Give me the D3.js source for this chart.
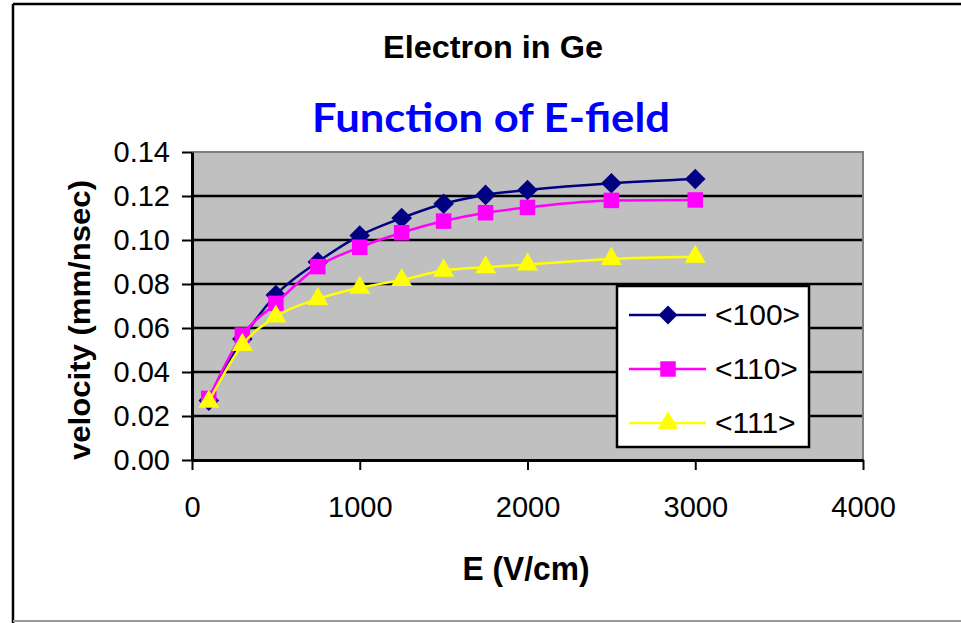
<!DOCTYPE html>
<html>
<head>
<meta charset="utf-8">
<script src="https://cdn.jsdelivr.net/npm/d3@7"></script>
<style>
  html, body { margin: 0; padding: 0; background: #fff; }
  svg { display: block; }
</style>
</head>
<body>
<svg id="chart" width="961" height="623"></svg>
<script>
// E-field (V/cm) for every measured point
const fieldE = [100, 300, 500, 750, 1000, 1250, 1500, 1750, 2000, 2500, 3000];

// drift velocity (mm/nsec) per crystal direction
const v100 = [0.027, 0.055, 0.075, 0.090, 0.102, 0.110, 0.1165, 0.1205, 0.1227, 0.1258, 0.1277];
const v110 = [0.028, 0.0568, 0.0712, 0.0879, 0.0967, 0.1033, 0.1086, 0.1124, 0.1148, 0.1180, 0.1182];
const v111 = [0.0265, 0.0523, 0.0652, 0.0732, 0.0783, 0.0818, 0.0861, 0.0876, 0.0889, 0.0914, 0.0924];

const seriesNames = ['<100>', '<110>', '<111>'];
const xTicks = [0, 1000, 2000, 3000, 4000];
const yTicks = [0, 0.02, 0.04, 0.06, 0.08, 0.10, 0.12, 0.14];

const svg = d3.select('#chart');
const font = "'Liberation Sans', Arial, sans-serif";

// outer chart frame
svg.append('line').attr('x1', 13).attr('y1', 4).attr('x2', 961).attr('y2', 4)
  .attr('stroke', '#000').attr('stroke-width', 2.5);
svg.append('line').attr('x1', 13).attr('y1', 4).attr('x2', 13).attr('y2', 623)
  .attr('stroke', '#000').attr('stroke-width', 2.5);
svg.append('line').attr('x1', 13).attr('y1', 621).attr('x2', 961).attr('y2', 621)
  .attr('stroke', '#999').attr('stroke-width', 2);

// plot area
const pL = 192, pR = 863, pT = 152, pB = 460;
const x = d3.scaleLinear().domain([0, 4000]).range([pL, pR]);
const y = d3.scaleLinear().domain([0, 0.14]).range([pB, pT]);

svg.append('rect')
  .attr('x', pL).attr('y', pT)
  .attr('width', pR - pL).attr('height', pB - pT)
  .attr('fill', '#C0C0C0');

// gridlines — black, on every tick except the ends
svg.append('g').attr('class', 'grid')
  .selectAll('line')
  .data(yTicks.filter(t => t > 0 && t < 0.14))
  .enter().append('line')
  .attr('x1', pL).attr('x2', pR)
  .attr('y1', d => y(d)).attr('y2', d => y(d))
  .attr('stroke', '#000').attr('stroke-width', 2.5);

// grey border top + right
svg.append('path')
  .attr('d', `M${pL},${pT}H${pR}V${pB}`)
  .attr('fill', 'none').attr('stroke', '#808080').attr('stroke-width', 2);

// axes
const xAxis = svg.append('g')
  .attr('transform', `translate(0,${pB})`)
  .call(d3.axisBottom(x).tickValues(xTicks).tickSize(10).tickSizeOuter(0).tickPadding(26).tickFormat(d3.format('d')));
const yAxis = svg.append('g')
  .attr('transform', `translate(${pL},0)`)
  .call(d3.axisLeft(y).tickValues(yTicks).tickSize(10).tickSizeOuter(0).tickPadding(12).tickFormat(d3.format('.2f')));

[xAxis, yAxis].forEach(a => {
  a.select('.domain').attr('stroke', '#000').attr('stroke-width', 3);
  a.selectAll('.tick line').attr('stroke', '#000').attr('stroke-width', 2);
  a.selectAll('.tick text')
    .attr('fill', '#000')
    .style('font-family', font)
    .style('font-size', '29px');
});

// series
const series = [
  { name: seriesNames[0], vals: v100, colour: '#000080', shape: d3.symbolDiamond2, size: 270, lgSize: 230 },
  { name: seriesNames[1], vals: v110, colour: '#FF00FF', shape: d3.symbolSquare, size: 240, lgSize: 240 },
  { name: seriesNames[2], vals: v111, colour: '#FFFF00', shape: d3.symbolTriangle, size: 190, lgSize: 180 }
];

const line = d3.line()
  .x(d => x(d[0]))
  .y(d => y(d[1]))
  .curve(d3.curveMonotoneX);

const marker = (s, size) => d3.symbol().type(s.shape).size(size)();

series.forEach(s => {
  const pts = fieldE.map((e, i) => [e, s.vals[i]]);
  const g = svg.append('g').attr('class', 'series');
  g.append('path')
    .datum(pts)
    .attr('d', line)
    .attr('fill', 'none')
    .attr('stroke', s.colour)
    .attr('stroke-width', 2.5);
  g.selectAll('path.mk')
    .data(pts)
    .enter().append('path')
    .attr('class', 'mk')
    .attr('d', marker(s, s.size))
    .attr('transform', d => `translate(${x(d[0])},${y(d[1])})`)
    .attr('fill', s.colour);
});

// legend
const lg = svg.append('g').attr('transform', 'translate(617,286)');
lg.append('rect')
  .attr('width', 192).attr('height', 161)
  .attr('fill', '#fff').attr('stroke', '#000').attr('stroke-width', 2.5);

series.forEach((s, i) => {
  const ry = 29 + i * 54;
  lg.append('line')
    .attr('x1', 12).attr('x2', 89).attr('y1', ry).attr('y2', ry)
    .attr('stroke', s.colour).attr('stroke-width', 2.5);
  lg.append('path')
    .attr('d', marker(s, s.lgSize))
    .attr('transform', `translate(51,${ry})`)
    .attr('fill', s.colour);
  lg.append('text')
    .attr('x', 98).attr('y', ry + 10)
    .style('font-family', font).style('font-size', '30px')
    .text(s.name);
});

// titles
svg.append('text')
  .attr('x', 493).attr('y', 58)
  .attr('text-anchor', 'middle')
  .attr('textLength', 220).attr('lengthAdjust', 'spacingAndGlyphs')
  .style('font-family', font).style('font-weight', 'bold').style('font-size', '32px')
  .text('Electron in Ge');

svg.append('text')
  .attr('x', 491).attr('y', 132)
  .attr('text-anchor', 'middle')
  .attr('textLength', 358).attr('lengthAdjust', 'spacingAndGlyphs')
  .attr('fill', '#0000FF')
  .style('font-family', "Lato, 'Open Sans', sans-serif").style('font-weight', 'bold').style('font-size', '41px')
  .text('Function of E-field');

svg.append('text')
  .attr('x', 526).attr('y', 580)
  .attr('text-anchor', 'middle')
  .attr('textLength', 127).attr('lengthAdjust', 'spacingAndGlyphs')
  .style('font-family', font).style('font-weight', 'bold').style('font-size', '33px')
  .text('E (V/cm)');

svg.append('text')
  .attr('transform', 'translate(90,320) rotate(-90)')
  .attr('text-anchor', 'middle')
  .attr('textLength', 280).attr('lengthAdjust', 'spacingAndGlyphs')
  .style('font-family', font).style('font-weight', 'bold').style('font-size', '30px')
  .text('velocity (mm/nsec)');
</script>
</body>
</html>
